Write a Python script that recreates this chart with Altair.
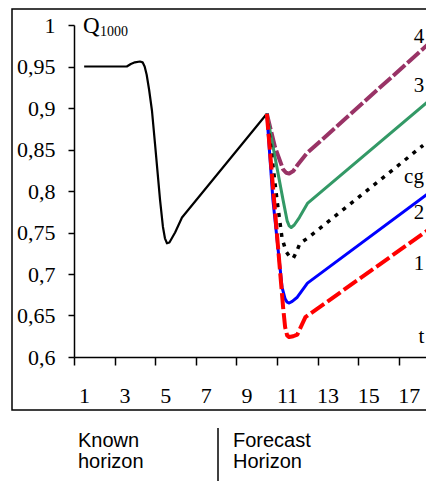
import altair as alt
import pandas as pd

# ---- data ----
known_x = [1, 3.1, 3.3, 3.5, 3.75, 3.88, 3.98, 4.08, 4.2, 4.34, 4.49, 4.74, 4.88, 4.98, 5.08, 5.2, 5.48, 5.82, 10]
known_y = [0.950, 0.950, 0.953, 0.955, 0.956, 0.955, 0.950, 0.940, 0.922, 0.897, 0.857, 0.789, 0.757, 0.743,
           0.737, 0.738, 0.750, 0.768, 0.893]

c4_x = [10, 10.4, 10.8, 10.95, 11.1, 11.3, 11.5, 11.95, 18]
c4_y = [0.893, 0.853, 0.826, 0.822, 0.821, 0.824, 0.831, 0.845, 0.978]
c3_x = [10, 10.8, 11.0, 11.1, 11.2, 11.35, 11.6, 12.0, 18]
c3_y = [0.893, 0.789, 0.764, 0.758, 0.756, 0.759, 0.768, 0.785, 0.909]
cg_x = [10, 10.5, 10.75, 10.95, 11.15, 11.3, 11.45, 11.63, 12.0, 17.7]
cg_y = [0.893, 0.789, 0.743, 0.727, 0.720, 0.719, 0.726, 0.737, 0.743, 0.855]
c2_x = [10, 10.3, 10.75, 10.9, 11.0, 11.1, 11.25, 11.5, 12.0, 18]
c2_y = [0.893, 0.789, 0.684, 0.670, 0.666, 0.665, 0.667, 0.672, 0.689, 0.798]
c1_x = [10, 10.8, 10.9, 11.0, 11.1, 11.3, 11.5, 11.9, 18]
c1_y = [0.893, 0.660, 0.636, 0.626, 0.624, 0.625, 0.627, 0.648, 0.754]

label_text = ["4", "3", "cg", "2", "1", "t"]
label_x = [17.5, 17.5, 17.25, 17.5, 17.5, 17.62]
label_y = [0.985, 0.926, 0.8165, 0.773, 0.712, 0.624]

x_ticks = [i + 0.5 for i in range(18)]
y_ticks = [0.6, 0.65, 0.7, 0.75, 0.8, 0.85, 0.9, 0.95, 1.0]

W, H = 352, 332
xscale = alt.Scale(domain=[0.5, 17.84], nice=False, zero=False)
yscale = alt.Scale(domain=[0.6, 1.0], nice=False, zero=False)

xaxis = alt.Axis(values=x_ticks, tickSize=8, labelOffset=10, labelPadding=37,
                 labelBaseline="alphabetic",
                 labelExpr="datum.value % 2 == 0.5 ? toString(datum.value + 0.5) : ''",
                 labelOverlap=False, labelFlush=False, labelBound=False, title=None)
yaxis = alt.Axis(values=y_ticks, tickSize=6, labelPadding=13,
                 labelExpr="replace(format(datum.value, '.2~f'), '.', ',')",
                 labelOverlap=False, title=None)


def curve(xs, ys, color, width, dash=None, axes=False):
    df = pd.DataFrame({"x": xs, "y": ys})
    kw = dict(color=color, strokeWidth=width, interpolate="linear", strokeJoin="round")
    if dash:
        kw["strokeDash"] = dash
    if axes:
        enc_x = alt.X("x:Q", scale=xscale, axis=xaxis)
        enc_y = alt.Y("y:Q", scale=yscale, axis=yaxis)
    else:
        enc_x = alt.X("x:Q", scale=xscale)
        enc_y = alt.Y("y:Q", scale=yscale)
    return alt.Chart(df).mark_line(**kw).encode(x=enc_x, y=enc_y)


known = curve(known_x, known_y, "black", 2.2, axes=True)
l4 = curve(c4_x, c4_y, "#993366", 4, dash=[16, 3])
l3 = curve(c3_x, c3_y, "#339966", 3)
lcg = curve(cg_x, cg_y, "black", 3.5, dash=[4, 6])
l2 = curve(c2_x, c2_y, "#0000FF", 3)
l1 = curve(c1_x, c1_y, "#FF0000", 4, dash=[16, 4])

labels = alt.Chart(pd.DataFrame({"t": label_text, "x": label_x, "y": label_y})).mark_text(
    font="Liberation Serif", fontSize=21, color="black", align="center", baseline="middle"
).encode(x=alt.X("x:Q", scale=xscale), y=alt.Y("y:Q", scale=yscale), text="t:N")

one = pd.DataFrame({"a": [0]})
q_main = alt.Chart(one).mark_text(text="Q", font="Liberation Serif", fontSize=23, color="black",
                                  align="left", baseline="alphabetic").encode(x=alt.value(9), y=alt.value(8))
q_sub = alt.Chart(one).mark_text(text="1000", font="Liberation Serif", fontSize=14, color="black",
                                 align="left", baseline="alphabetic").encode(x=alt.value(26), y=alt.value(11))

frame = alt.Chart(one).mark_rect(filled=False, stroke="black", strokeWidth=1.5).encode(
    x=alt.value(-62), x2=alt.value(W + 40), y=alt.value(-16), y2=alt.value(H + 53))

cap_font = dict(font="Liberation Sans", fontSize=20, color="black", align="left", baseline="alphabetic")
cap1 = alt.Chart(one).mark_text(text="Known", **cap_font).encode(x=alt.value(4), y=alt.value(H + 90))
cap2 = alt.Chart(one).mark_text(text="horizon", **cap_font).encode(x=alt.value(4), y=alt.value(H + 111))
cap3 = alt.Chart(one).mark_text(text="Forecast", **cap_font).encode(x=alt.value(159), y=alt.value(H + 90))
cap4 = alt.Chart(one).mark_text(text="Horizon", **cap_font).encode(x=alt.value(159), y=alt.value(H + 111))
sep = alt.Chart(one).mark_rule(color="black", strokeWidth=1.5).encode(
    x=alt.value(144), y=alt.value(H + 71), y2=alt.value(H + 124))

chart = alt.layer(
    known, frame, l4, l3, lcg, l2, l1, labels, q_main, q_sub, cap1, cap2, cap3, cap4, sep
).properties(
    width=W, height=H,
    autosize=alt.AutoSizeParams(type="none"),
    padding={"left": 66, "top": 17, "right": 0, "bottom": 124},
).configure_view(stroke=None).configure_axis(
    domainColor="black", domainWidth=1.5, tickColor="black", tickWidth=1.5,
    labelFont="Liberation Serif", labelFontSize=22, labelColor="black", grid=False
)

chart.save("out.html", embed_options={"renderer": "svg", "actions": False})
